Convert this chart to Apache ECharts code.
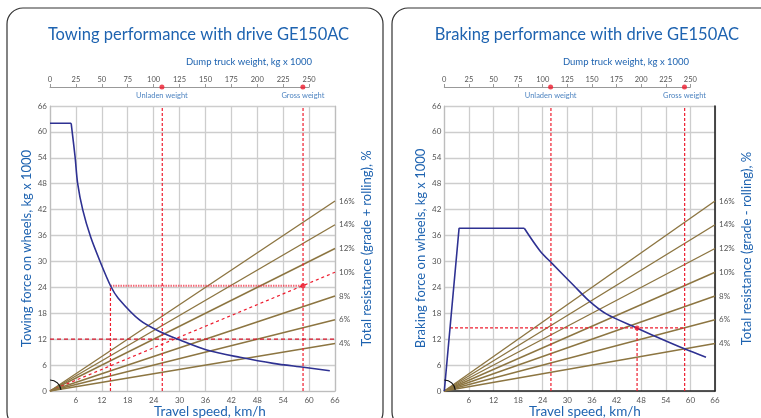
<!DOCTYPE html>
<html>
<head>
<meta charset="utf-8">
<script src="https://cdn.jsdelivr.net/npm/echarts@6/dist/echarts.min.js"></script>
<style>
html,body{margin:0;padding:0;background:#fff;}
#chart{width:761px;height:418px;}
</style>
</head>
<body>
<div id="chart"></div>
<script>
// ---- data ----
const speedMax = 66;
const speedInterval = 6;
const forceMax = 66;
const forceInterval = 6;
const weightMax = 250;
const weightInterval = 25;

// Towing (rimpull) curve: constant part then the falling curve
const towSpeed = [0, 4.9, 5.8, 6.4, 7.6, 9.4, 11.6, 14.1, 15.8, 20.8, 25.5, 30.1, 36.3, 44.0, 51.7, 58.7, 64.8];
const towForce = [62, 62, 54.3, 48.1, 41.9, 35.7, 30.0, 24.2, 21.5, 16.4, 13.7, 11.8, 9.5, 7.8, 6.4, 5.5, 4.7];
const towCornerIndex = 1;

// Braking (retarding) curve: ramp, flat part, then the falling curve
const brakeSpeed = [0, 3.6, 19.5, 23.3, 26.2, 31.5, 35.5, 39.6, 46.9, 51.8, 58.7, 63.8];
const brakeForce = [0, 37.7, 37.7, 32.5, 29.6, 24.5, 20.7, 17.8, 14.6, 12.5, 9.7, 7.8];
const brakeCornerIndex = 2;

// Total resistance lines: label and force reached at 66 km/h
const resistLabels = ['16%', '14%', '12%', '10%', '8%', '6%', '4%'];
const resistEnd = [44, 38.5, 33, 27.5, 22, 16.5, 11];

// Weights (top axis) and the matching speed-axis positions
const unladenWeight = 108;
const grossWeight = 244;
const unladenSpeed = 26;
const grossSpeed = 58.6;

// Towing example
const towPointForce = 24.4;
const towPointSpeed = 14;
const towRefForce = 12;
// Braking example
const brakePointForce = 14.6;
const brakeStartSpeed = 1.4;
const brakePointSpeed = 47;

// ---- styles ----
const BLUE_TXT = '#1e63b0';
const CURVE = '#2e3192';
const BROWN = '#8c7541';
const RED = '#ee1c2e';
const GRID = '#cdcdcd';
const LBL = '#555';
const FONT = 'Lato, "Noto Sans", sans-serif';

const panels = [
  {left: 50, width: 285, yName: 'Towing force on wheels, kg x 1000', rName: 'Total resistance (grade + rolling), %', dark: false},
  {left: 444.3, width: 270.7, yName: 'Braking force on wheels, kg x 1000', rName: 'Total resistance (grade - rolling), %', dark: true}
];
const TOP = 106, H = 285;

const grids = [], xAxes = [], yAxes = [], series = [];
// grids 0,1: plots; grids 2,3: weight axes above the plots
panels.forEach(p => grids.push({left: p.left, top: TOP, width: p.width, height: H}));
panels.forEach(p => grids.push({left: p.left, top: 87, width: p.width * 60 / speedMax, height: TOP - 87}));

// xAxis 0,1: speed; xAxis 2,3: weight
panels.forEach((p, i) => {
  xAxes.push({
    gridIndex: i, type: 'value', position: 'bottom', min: 0, max: speedMax, interval: speedInterval,
    axisLine: {show: true, onZero: false, lineStyle: {color: p.dark ? '#222' : '#bdbdbd', width: p.dark ? 1.6 : 1.2}},
    axisTick: {show: false},
    axisLabel: {color: LBL, fontSize: 8, fontFamily: FONT, margin: 5, showMinLabel: false},
    splitLine: {show: true, lineStyle: {color: GRID, width: 1.3}}
  });
});
panels.forEach((p, i) => {
  xAxes.push({
    gridIndex: 2 + i, type: 'value', position: 'top', min: 0, max: weightMax, interval: weightInterval,
    axisLine: {show: true, onZero: false, lineStyle: {color: '#999', width: 1}},
    axisTick: {show: true, length: 3, lineStyle: {color: '#999'}},
    axisLabel: {color: LBL, fontSize: 7.5, fontFamily: FONT, margin: 3},
    splitLine: {show: false}
  });
});
// yAxis 0,1: force (left); 2,3: resistance names (right); 4,5: helper for weight grids
panels.forEach((p, i) => {
  yAxes.push({
    gridIndex: i, type: 'value', position: 'left', min: 0, max: forceMax, interval: forceInterval,
    name: p.yName, nameLocation: 'middle', nameRotate: 90, nameGap: 17,
    nameTextStyle: {color: BLUE_TXT, fontSize: 13, fontFamily: FONT},
    axisLine: {show: true, onZero: false, lineStyle: {color: '#bdbdbd', width: 1.2}},
    axisTick: {show: false},
    axisLabel: {color: LBL, fontSize: 8, fontFamily: FONT, margin: 3},
    splitLine: {show: true, lineStyle: {color: GRID, width: 1.3}}
  });
});
panels.forEach((p, i) => {
  yAxes.push({
    gridIndex: i, type: 'value', position: 'right', min: 0, max: forceMax, interval: forceInterval,
    name: p.rName, nameLocation: 'middle', nameRotate: 90, nameGap: 25,
    nameTextStyle: {color: BLUE_TXT, fontSize: 13, fontFamily: FONT},
    axisLine: {show: true, onZero: false, lineStyle: {color: p.dark ? '#222' : '#bdbdbd', width: p.dark ? 1.6 : 1.2}},
    axisTick: {show: false}, axisLabel: {show: false}, splitLine: {show: false}
  });
});
panels.forEach((p, i) => {
  yAxes.push({gridIndex: 2 + i, type: 'value', min: 0, max: 1, show: false});
});

function pairs(xs, ys) { return xs.map((x, k) => [x, ys[k]]); }

// resistance lines
panels.forEach((p, i) => {
  resistLabels.forEach((lab, k) => {
    const isRed = (i === 0 && lab === '10%');
    series.push({
      type: 'line', xAxisIndex: i, yAxisIndex: i, symbol: 'none', silent: true, z: 3,
      data: [[0, 0], [speedMax, resistEnd[k]]],
      lineStyle: isRed ? {color: RED, width: 1.2, type: [3, 3]} : {color: BROWN, width: 1.4},
      endLabel: {show: true, formatter: lab, color: LBL, fontSize: 8, fontFamily: FONT, distance: 4}
    });
  });
});

function redLine(gi, data, extra) {
  return Object.assign({
    type: 'line', xAxisIndex: gi, yAxisIndex: gi, symbol: 'none', silent: true, z: 4,
    data: data, lineStyle: {color: RED, width: 1.2, type: [3, 2]}
  }, extra || {});
}

// weight reference lines (both panels)
[0, 1].forEach(gi => {
  series.push(redLine(gi, [[unladenSpeed, 0], [unladenSpeed, forceMax]]));
  series.push(redLine(gi, [[grossSpeed, 0], [grossSpeed, forceMax]]));
});
// towing example
series.push(redLine(0, [[0, towRefForce], [speedMax, towRefForce]], {lineStyle: {color: '#d8142a', width: 1.2, type: [4, 3]}}));
series.push(redLine(0, [[towPointSpeed, towPointForce], [grossSpeed, towPointForce]], {lineStyle: {color: 'rgba(238,40,60,0.7)', width: 2, type: [1.5, 1]}}));
series.push(redLine(0, [[towPointSpeed, 0], [towPointSpeed, towPointForce]]));
series.push({type: 'scatter', xAxisIndex: 0, yAxisIndex: 0, z: 6, symbolSize: 5, itemStyle: {color: RED}, data: [[grossSpeed, towPointForce]]});
// braking example
series.push(redLine(1, [[brakeStartSpeed, brakePointForce], [grossSpeed, brakePointForce]]));
series.push(redLine(1, [[brakePointSpeed, 0], [brakePointSpeed, brakePointForce]]));
series.push({type: 'scatter', xAxisIndex: 1, yAxisIndex: 1, z: 6, symbolSize: 5, itemStyle: {color: RED}, data: [[brakePointSpeed, brakePointForce]]});

// performance curves
const towPts = pairs(towSpeed, towForce);
const brakePts = pairs(brakeSpeed, brakeForce);
const curveStyle = {color: CURVE, width: 1.6};
series.push({type: 'line', xAxisIndex: 0, yAxisIndex: 0, symbol: 'none', z: 5, data: towPts.slice(0, towCornerIndex + 1), lineStyle: curveStyle});
series.push({type: 'line', xAxisIndex: 0, yAxisIndex: 0, symbol: 'none', z: 5, smooth: 0.3, data: towPts.slice(towCornerIndex), lineStyle: curveStyle});
series.push({type: 'line', xAxisIndex: 1, yAxisIndex: 1, symbol: 'none', z: 5, data: brakePts.slice(0, brakeCornerIndex + 1), lineStyle: curveStyle});
series.push({type: 'line', xAxisIndex: 1, yAxisIndex: 1, symbol: 'none', z: 5, smooth: 0.3, data: brakePts.slice(brakeCornerIndex), lineStyle: curveStyle});

// weight markers on top axes
[0, 1].forEach(i => {
  series.push({type: 'scatter', xAxisIndex: 2 + i, yAxisIndex: 4 + i, symbolSize: 5, itemStyle: {color: RED}, z: 6,
    data: [
      {value: [unladenWeight, 1], label: {formatter: 'Unladen weight'}},
      {value: [grossWeight, 1], label: {formatter: 'Gross weight'}}
    ],
    label: {show: true, position: 'bottom', distance: 2, color: BLUE_TXT, fontSize: 7.5, fontFamily: FONT}
  });
});

const chart = echarts.init(document.getElementById('chart'), null, {renderer: 'canvas'});
chart.setOption({
  backgroundColor: '#fff',
  animation: false,
  grid: grids, xAxis: xAxes, yAxis: yAxes, series: series
});

// decorations: frames, titles, axis names, origin arcs
const o0 = chart.convertToPixel({xAxisIndex: 0, yAxisIndex: 0}, [0, 0]);
const o1 = chart.convertToPixel({xAxisIndex: 1, yAxisIndex: 1}, [0, 0]);
function txt(x, y, s, size, va) {
  return {type: 'text', x: x, y: y, silent: true, z: 10,
    style: {text: s, fill: BLUE_TXT, font: size + 'px ' + FONT, textAlign: 'center', textVerticalAlign: va || 'middle'}};
}
function arc(o) {
  return {type: 'arc', silent: true, z: 10, shape: {cx: o[0], cy: o[1], r: 11, startAngle: -Math.PI / 2, endAngle: -0.1, clockwise: true},
    style: {stroke: '#111', fill: null, lineWidth: 1.2}};
}
chart.setOption({
  graphic: [
    {type: 'rect', silent: true, z: 1, shape: {x: 7, y: 8, width: 376, height: 420, r: 16}, style: {fill: null, stroke: '#333', lineWidth: 1.2}},
    {type: 'rect', silent: true, z: 1, shape: {x: 392, y: 8, width: 390, height: 420, r: 16}, style: {fill: null, stroke: '#333', lineWidth: 1.2}},
    txt(198.5, 35, 'Towing performance with drive GE150AC', 16.5),
    txt(587, 35, 'Braking performance with drive GE150AC', 16.5),
    txt(249, 62, 'Dump truck weight, kg x 1000', 9.5),
    txt(626, 62, 'Dump truck weight, kg x 1000', 9.5),
    txt(210, 405, 'Travel speed, km/h', 13.5, 'top'),
    txt(585, 405, 'Travel speed, km/h', 13.5, 'top'),
    arc(o0), arc(o1)
  ]
});
</script>
</body>
</html>
